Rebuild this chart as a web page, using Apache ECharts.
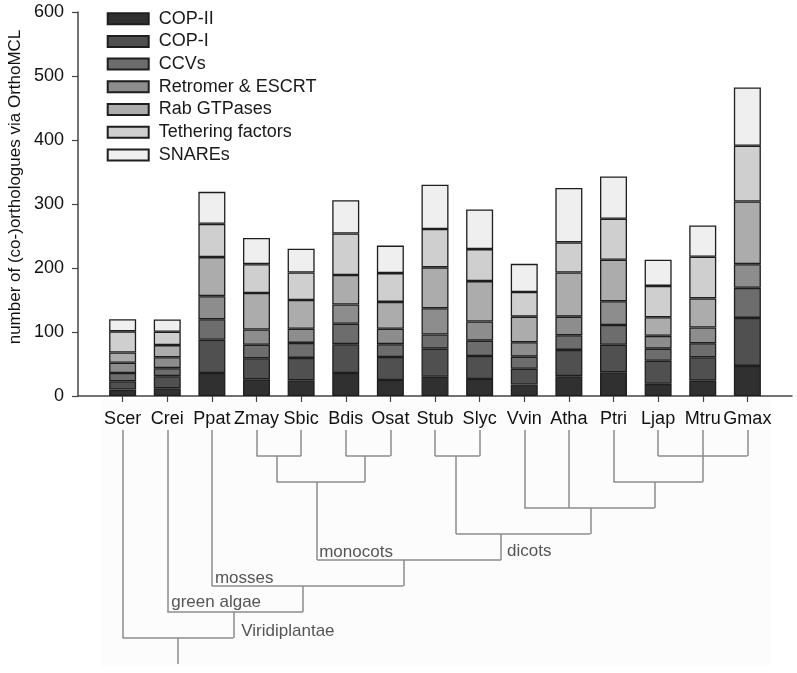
<!DOCTYPE html>
<html>
<head>
<meta charset="utf-8">
<script src="https://cdn.jsdelivr.net/npm/echarts@6/dist/echarts.min.js"></script>
<style>
html,body{margin:0;padding:0;background:#fff;}
#chart{width:797px;height:673px;}
</style>
</head>
<body>
<div id="chart"></div>
<script>
// ---------- data ----------
const categories = ['Scer','Crei','Ppat','Zmay','Sbic','Bdis','Osat','Stub','Slyc','Vvin','Atha','Ptri','Ljap','Mtru','Gmax'];
const seriesNames = ['COP-II','COP-I','CCVs','Retromer & ESCRT','Rab GTPases','Tethering factors','SNAREs'];
const copII    = [10, 12, 36, 26, 24.5, 36, 25, 30, 26.5, 18, 31, 37, 19, 24, 47];
const copI     = [13, 19, 52, 33, 35, 45, 36, 44, 36, 24.5, 41, 43, 36, 36.5, 75];
const ccvs     = [13, 12.5, 32, 21, 23.5, 32, 20, 22, 24, 19, 23, 31, 19, 22, 47];
const retromer = [16, 17, 36, 24, 22, 30, 24, 41, 30, 22.5, 29, 37, 20, 24.5, 37];
const rab      = [16, 19, 61, 57, 45, 46, 42, 64, 63, 40, 69, 65, 29, 45.5, 98];
const tether   = [33, 21, 52, 45, 43, 65, 45, 60, 50, 38.5, 47, 64, 49, 65, 87];
const snares   = [19, 19, 50, 41, 37, 52, 43, 69, 62, 44, 85, 66, 41, 49, 91];
const yTicks = [0, 100, 200, 300, 400, 500, 600];
const yAxisTitle = 'number of (co-)orthologues via OrthoMCL';

// tree topology: leaf stem end depth (per category)
const leafStemEnd = [8, 7, 6, 1, 1, 1, 1, 1, 1, 3, 3, 2, 1, 2, 1];
// joins: [left child position, right child position, depth, node position, depth of node stem end]
// positions are in category-index units (Scer = 1), depths are tree levels
const treeJoins = [
  [4, 5, 1, 4.45, 2],
  [6, 7, 1, 6.43, 2],
  [4.45, 6.43, 2, 5.36, 5],
  [8, 9, 1, 8.47, 4],
  [13, 15, 1, null, null],
  [12, 14, 2, 12.92, 3],
  [10, 12.92, 3, 11.48, 4],
  [8.47, 11.48, 4, 9.48, 5],
  [5.36, 9.48, 5, 7.29, 6],
  [3, 7.29, 6, 5.04, 7],
  [2, 5.04, 7, 3.48, 8],
  [1, 3.48, 8, 2.23, 9]
];
const cladeNames  = ['monocots', 'dicots', 'mosses', 'green algae', 'Viridiplantae'];
const cladeAnchor = [[5.36, 5], [9.48, 5], [3, 6], [2, 7], [3.48, 8]];

// ---------- styling ----------
const FONT = "'Liberation Sans', Arial, Helvetica, sans-serif";
const colors = ['#303030', '#505050', '#6d6d6d', '#8d8d8d', '#acacac', '#cfcfcf', '#efefef'];
const labelOffsets = {
  'monocots': [2, -8], 'dicots': [6, -9], 'mosses': [3, -8],
  'green algae': [4, -10], 'Viridiplantae': [8, -7]
};

const values = [copII, copI, ccvs, retromer, rab, tether, snares];
const padCats = [''].concat(categories, ['']);
const nPad = padCats.length;

const barSeries = seriesNames.map((name, k) => ({
  name: name,
  type: 'bar',
  stack: 'total',
  barWidth: 27,
  xAxisIndex: 0,
  yAxisIndex: 0,
  data: [null].concat(values[k], [null]),
  itemStyle: { color: colors[k], borderColor: '#1e1e1e', borderWidth: 1.3 },
  emphasis: { disabled: true },
  animation: false
}));

// tree segments
const segs = [];
categories.forEach((c, i) => {
  segs.push({ coords: [[i + 1, 0], [i + 1, leafStemEnd[i]]] });
});
treeJoins.forEach(j => {
  segs.push({ coords: [[j[0], j[2]], [j[1], j[2]]] });
  if (j[3] !== null) segs.push({ coords: [[j[3], j[2]], [j[3], j[4]]] });
});

const cladeData = cladeNames.map((n, i) => ({
  name: n,
  value: cladeAnchor[i],
  label: { position: labelOffsets[n] }
}));

const chart = echarts.init(document.getElementById('chart'), null, { renderer: 'canvas' });
chart.setOption({
  animation: false,
  backgroundColor: '#ffffff',
  textStyle: { fontFamily: FONT },
  legend: {
    orient: 'vertical',
    left: 106.7,
    top: 8.7,
    padding: 0,
    icon: 'rect',
    itemWidth: 41,
    itemHeight: 11,
    itemGap: 2.7,
    selectedMode: false,
    data: seriesNames,
    textStyle: { fontFamily: FONT, fontSize: 18, color: '#1a1a1a', lineHeight: 20, padding: [0, 0, 0, 5] }
  },
  grid: [
    { left: 78, right: 5, top: 12, bottom: 277, containLabel: false },
    { left: 78, right: 5, top: 430, height: 234, containLabel: false }
  ],
  xAxis: [
    {
      type: 'category',
      gridIndex: 0,
      data: padCats,
      boundaryGap: false,
      axisLine: { lineStyle: { color: '#444', width: 1.5 } },
      axisTick: {
        length: 6,
        lineStyle: { color: '#444', width: 1.2 },
        interval: (idx) => idx > 0 && idx < nPad - 1
      },
      axisLabel: {
        interval: 0,
        margin: 14,
        fontSize: 18,
        color: '#111',
        fontFamily: FONT
      },
      splitLine: { show: false }
    },
    { type: 'value', gridIndex: 1, min: 0, max: nPad - 1, show: false }
  ],
  yAxis: [
    {
      type: 'value',
      gridIndex: 0,
      min: yTicks[0],
      max: yTicks[yTicks.length - 1],
      interval: yTicks[1] - yTicks[0],
      axisLine: { show: true, lineStyle: { color: '#444', width: 1.5 } },
      axisTick: { show: true, length: 6, lineStyle: { color: '#444', width: 1.2 } },
      axisLabel: { margin: 14, fontSize: 18, color: '#111', fontFamily: FONT },
      splitLine: { show: false }
    },
    { type: 'value', gridIndex: 1, min: 0, max: 9, inverse: true, show: false }
  ],
  graphic: [
    {
      type: 'rect',
      z: -10,
      silent: true,
      shape: { x: 101, y: 399, width: 669, height: 267 },
      style: { fill: '#fcfcfc' }
    },
    {
      type: 'text',
      x: 15,
      y: 187,
      rotation: Math.PI / 2,
      silent: true,
      style: {
        text: yAxisTitle,
        fill: '#111',
        font: '17px ' + FONT,
        align: 'center',
        verticalAlign: 'middle'
      }
    }
  ],
  series: barSeries.concat([
    {
      type: 'lines',
      coordinateSystem: 'cartesian2d',
      xAxisIndex: 1,
      yAxisIndex: 1,
      silent: true,
      polyline: false,
      lineStyle: { color: '#8c8c8c', width: 1.5, opacity: 1 },
      data: segs,
      animation: false
    },
    {
      type: 'scatter',
      xAxisIndex: 1,
      yAxisIndex: 1,
      symbolSize: 0,
      silent: true,
      data: cladeData,
      label: {
        show: true,
        formatter: '{b}',
        align: 'left',
        verticalAlign: 'middle',
        fontSize: 17,
        color: '#2a2a2a',
        fontFamily: FONT
      },
      animation: false
    }
  ])
});
</script>
</body>
</html>
